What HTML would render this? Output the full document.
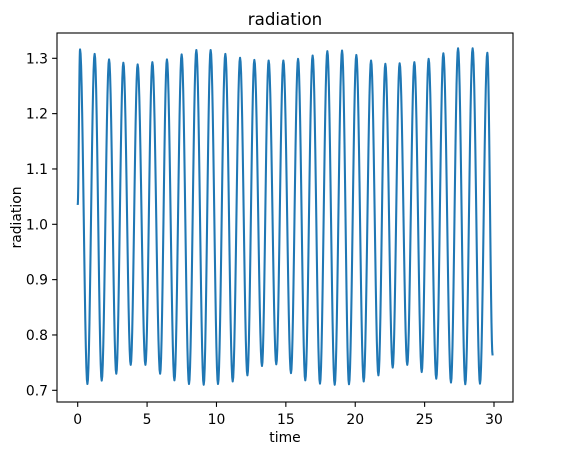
<!DOCTYPE html>
<html><head><meta charset="utf-8"><style>
body{margin:0;background:#fff;}
svg text{font-family:"DejaVu Sans","Liberation Sans",sans-serif;fill:#000;}
</style></head><body>
<svg id="chart" width="567" height="455" xmlns="http://www.w3.org/2000/svg">
<rect x="0" y="0" width="567" height="455" fill="#fff"/>
<g id="plot"></g>
</svg>
<script>
const peakTimes=[0.17,1.22,2.26,3.29,4.32,5.38,6.43,7.49,8.55,9.58,10.64,11.70,12.73,13.76,14.82,15.88,16.93,17.99,19.05,20.08,21.14,22.17,23.20,24.26,25.29,26.35,27.41,28.46,29.52];
const peakValues=[1.316,1.308,1.298,1.292,1.289,1.293,1.298,1.307,1.315,1.315,1.308,1.301,1.297,1.296,1.296,1.299,1.305,1.313,1.314,1.306,1.296,1.290,1.291,1.293,1.299,1.309,1.318,1.318,1.310];
const troughTimes=[0.70,1.73,2.78,3.82,4.88,5.94,6.97,8.02,9.08,10.11,11.17,12.23,13.28,14.31,15.37,16.40,17.46,18.52,19.55,20.61,21.67,22.70,23.75,24.79,25.84,26.90,27.93,28.99];
const troughValues=[0.7115,0.7176,0.730,0.746,0.746,0.730,0.718,0.7115,0.710,0.7115,0.716,0.727,0.744,0.747,0.731,0.718,0.712,0.710,0.711,0.716,0.727,0.741,0.746,0.733,0.721,0.714,0.711,0.712];
const startPoint=[0,1.035];
const endPoint=[29.9,0.763];
const xTicks=[0,5,10,15,20,25,30];
const yTicks=[0.7,0.8,0.9,1.0,1.1,1.2,1.3];

const L=57,R=513,T=33,B=402;
const xs=t=>77.7+t*(494-77.7)/30;
const ys=v=>390.3-(v-0.7)*(390.3-58.3)/0.6;
const NS="http://www.w3.org/2000/svg";
const g=document.getElementById('plot');
function mk(tag,attrs){const e=document.createElementNS(NS,tag);for(const k in attrs)e.setAttribute(k,attrs[k]);g.appendChild(e);return e;}

let pts=[startPoint];
for(let i=0;i<peakTimes.length;i++){
  pts.push([peakTimes[i],peakValues[i]]);
  if(i<troughTimes.length)pts.push([troughTimes[i],troughValues[i]]);
}
pts.push(endPoint);
let d="";
for(let i=0;i<pts.length-1;i++){
  const [t0,v0]=pts[i],[t1,v1]=pts[i+1];
  const n=14;
  for(let k=(i===0?0:1);k<=n;k++){
    const f=k/n;
    const e=(1-Math.cos(Math.PI*f))/2;
    const t=t0+(t1-t0)*f, v=v0+(v1-v0)*e;
    d+=(d?"L":"M")+xs(t).toFixed(2)+","+ys(v).toFixed(2);
  }
}
const line=mk('path',{d:d,fill:'none',stroke:'#1f77b4','stroke-width':2.08,'stroke-linejoin':'round'});



const frame=mk('rect',{x:L,y:T,width:R-L,height:B-T,fill:'none',stroke:'#000','stroke-width':1.1});



xTicks.forEach(t=>{
  const x=xs(t);
  const tk=mk('line',{x1:x,x2:x,y1:B,y2:B+4.9,stroke:'#000','stroke-width':1.1});
  
  
  const tx=mk('text',{x:x,y:B+22,'text-anchor':'middle','font-size':13.9});
  tx.textContent=t;
  
  
});
yTicks.forEach(v=>{
  const y=ys(v);
  const tk=mk('line',{x1:L-4.9,x2:L,y1:y,y2:y,stroke:'#000','stroke-width':1.1});
  
  
  const tx=mk('text',{x:L-9,y:y+5,'text-anchor':'end','font-size':13.9});
  tx.textContent=v.toFixed(1);
  
  
});
const title=mk('text',{x:(L+R)/2,y:25,'text-anchor':'middle','font-size':16.7});
title.textContent='radiation';


const xl=mk('text',{x:(L+R)/2,y:442,'text-anchor':'middle','font-size':13.9});
xl.textContent='time';


const yl=mk('text',{x:0,y:0,'text-anchor':'middle','font-size':13.9,transform:'translate(21,'+((T+B)/2)+') rotate(-90)'});
yl.textContent='radiation';


</script>
</body></html>
